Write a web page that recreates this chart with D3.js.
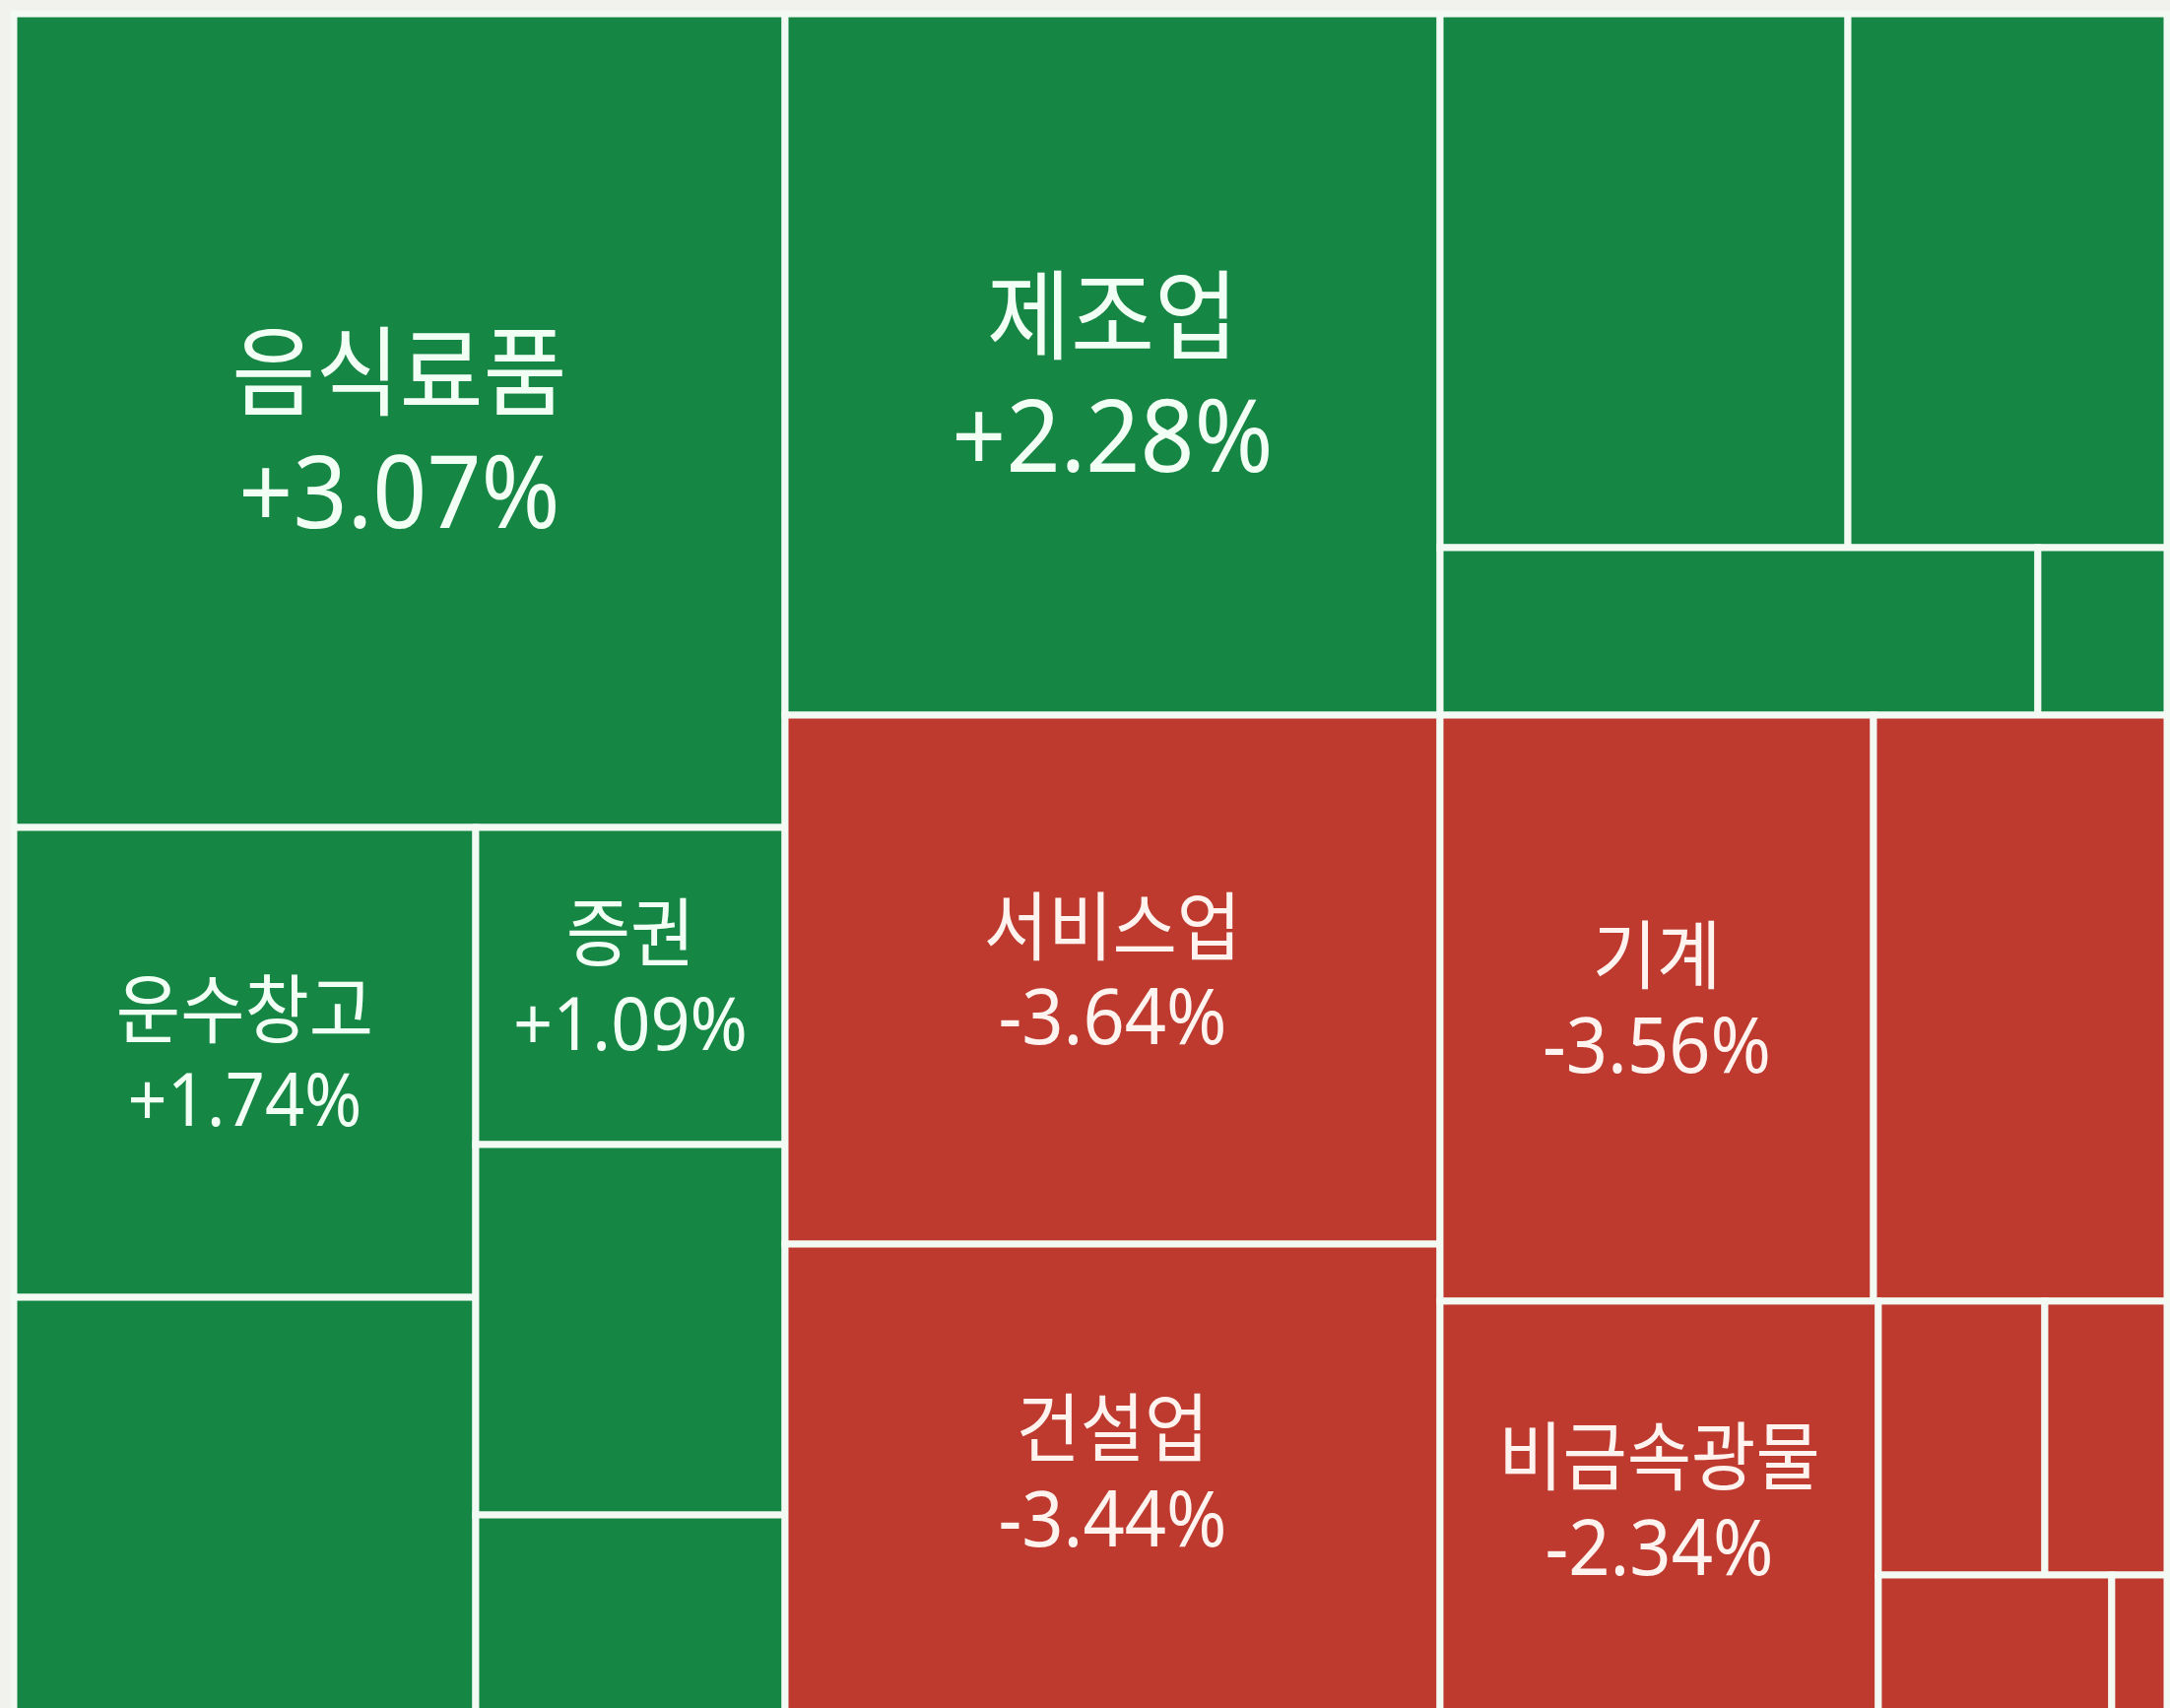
<!DOCTYPE html>
<html>
<head>
<meta charset="utf-8">
<script src="https://cdn.jsdelivr.net/npm/d3@7"></script>
<style>
  html, body { margin: 0; padding: 0; background: #f1f1ed; }
  svg { display: block; }
</style>
</head>
<body>
<svg id="chart" width="2203" height="1734"></svg>
<script>
// ---- data ----
const labels  = ["음식료품", "운수창고", "", "증권", "", "", "제조업", "", "", "", "",
                 "서비스업", "건설업", "기계", "", "비금속광물", "", "", "", ""];
// relative size of each sector
const values  = [646.8, 223.7, 200.7, 101.1, 118.1, 65.0, 473.5, 224.4, 175.6, 103.2, 22.3,
                 357.1, 320.5, 261.8, 177.3, 188.7, 47.0, 34.5, 34.6, 8.2];
// daily change in % (null = not labelled in the picture)
const changes = [3.07, 1.74, null, 1.09, null, null, 2.28, null, null, null, null,
                 -3.64, -3.44, -3.56, null, -2.34, null, null, null, null];
// direction of each sector (colour), +1 up / -1 down
const signs   = [1, 1, 1, 1, 1, 1, 1, 1, 1, 1, 1,
                 -1, -1, -1, -1, -1, -1, -1, -1, -1];

// nesting of the treemap (leaf = index into the arrays above), with split direction
const tree = {dir: "x", children: [
  {dir: "y", children: [0, {dir: "x", children: [
      {dir: "y", children: [1, 2]},
      {dir: "y", children: [3, 4, 5]}]}]},
  {dir: "y", children: [
    {dir: "x", children: [6, {dir: "y", children: [
        {dir: "x", children: [7, 8]},
        {dir: "x", children: [9, 10]}]}]},
    {dir: "x", children: [
      {dir: "y", children: [11, 12]},
      {dir: "y", children: [
        {dir: "x", children: [13, 14]},
        {dir: "x", children: [15, {dir: "y", children: [
            {dir: "x", children: [16, 17]},
            {dir: "x", children: [18, 19]}]}]}]}]}]}
]};

// ---- layout ----
const X0 = 14, Y0 = 14, W = 2200 - 14, H = 1745 - 14;
const GREEN = "#168644", RED = "#be3a2e", LINE = "#f3faf4";

const root = d3.hierarchy(tree, d => d.children
    ? d.children.map(c => typeof c === "number" ? {leaf: c} : c) : null)
  .sum(d => d.leaf != null ? values[d.leaf] : 0);

const tile = (node, x0, y0, x1, y1) =>
  (node.data.dir === "x" ? d3.treemapDice : d3.treemapSlice)(node, x0, y0, x1, y1);

d3.treemap().size([W, H]).paddingInner(0).round(false).tile(tile)(root);

const color = d3.scaleOrdinal().domain([1, -1]).range([GREEN, RED]);
const nameSize = d3.scaleThreshold().domain([400]).range([71, 92.5]);

const svg = d3.select("#chart");
const g = svg.append("g").attr("transform", `translate(${X0},${Y0})`);

const leaves = root.leaves();

g.selectAll("rect.cell")
  .data(leaves)
  .join("rect")
  .attr("class", "cell")
  .attr("x", d => d.x0)
  .attr("y", d => d.y0)
  .attr("width", d => d.x1 - d.x0)
  .attr("height", d => d.y1 - d.y0)
  .attr("fill", d => color(signs[d.data.leaf]))
  .attr("stroke", LINE)
  .attr("stroke-width", 7);

const fmt = v => (v > 0 ? "+" : "") + v.toFixed(2) + "%";
const SY = 1.07;

g.selectAll("text.label")
  .data(leaves.filter(d => labels[d.data.leaf]))
  .join("text")
  .attr("class", "label")
  .each(function(d) {
    const i = d.data.leaf;
    const fs = nameSize(values[i]);
    const big = fs > 80;
    const gap = big ? fs * 1.36 : fs * 1.32;
    const shift = big ? 6 : -12;
    const cx = (d.x0 + d.x1) / 2, cy = (d.y0 + d.y1) / 2 + shift;
    const fill = signs[i] > 0 ? "#f2fff4" : "#fff3f0";
    const t = d3.select(this)
      .attr("transform", `translate(${cx},${cy}) scale(1,${SY})`)
      .attr("text-anchor", "middle")
      .attr("dominant-baseline", "central")
      .attr("fill", fill);
    t.append("tspan")
      .attr("x", 0)
      .attr("y", -gap / 2 / SY)
      .attr("dominant-baseline", "central")
      .attr("font-family", "'Noto Sans CJK KR', 'Noto Sans', sans-serif")
      .attr("font-size", fs)
      .text(labels[i]);
    t.append("tspan")
      .attr("x", 0)
      .attr("y", gap / 2 / SY)
      .attr("dominant-baseline", "central")
      .attr("font-family", "'Noto Sans', 'Noto Sans CJK KR', sans-serif")
      .attr("font-size", fs / 1.075 * 1.12 * (changes[i] > 0 && !big ? 0.95 : 1))
      .text(fmt(changes[i]));
  });
</script>
</body>
</html>
